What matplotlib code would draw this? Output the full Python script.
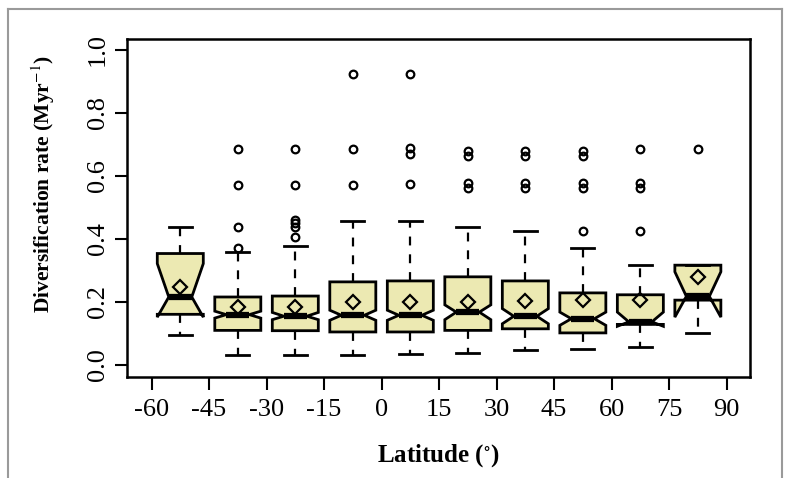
import matplotlib
matplotlib.use("Agg")
import matplotlib.pyplot as plt
from matplotlib.lines import Line2D

plt.rcParams['font.family'] = ['Liberation Serif', 'DejaVu Serif']
plt.rcParams['mathtext.fontset'] = 'stix'

# box centres (latitude band mid-points)
lat = [-52.5, -37.5, -22.5, -7.5, 7.5, 22.5, 37.5, 52.5, 67.5, 82.5]
whislo = [0.095, 0.030, 0.030, 0.030, 0.035, 0.037, 0.048, 0.051, 0.056, 0.100]
q1 = [0.160, 0.109, 0.108, 0.104, 0.104, 0.109, 0.114, 0.101, 0.128, 0.205]
cilo = [0.151, 0.148, 0.143, 0.141, 0.141, 0.143, 0.130, 0.125, 0.122, 0.151]
med = [0.215, 0.159, 0.154, 0.157, 0.157, 0.167, 0.154, 0.146, 0.136, 0.217]
cihi = [0.321, 0.170, 0.166, 0.173, 0.173, 0.190, 0.178, 0.167, 0.167, 0.295]
q3 = [0.353, 0.215, 0.218, 0.263, 0.266, 0.279, 0.266, 0.228, 0.222, 0.316]
whishi = [0.438, 0.358, 0.376, 0.456, 0.456, 0.438, 0.424, 0.372, 0.316, 0.316]
means = [0.247, 0.183, 0.183, 0.199, 0.199, 0.199, 0.201, 0.205, 0.205, 0.279]
fliers = [
    [],
    [0.372, 0.436, 0.570, 0.684],
    [0.404, 0.436, 0.449, 0.459, 0.570, 0.684],
    [0.570, 0.684, 0.924],
    [0.573, 0.669, 0.687, 0.924],
    [0.560, 0.578, 0.663, 0.680],
    [0.560, 0.578, 0.663, 0.680],
    [0.424, 0.560, 0.578, 0.663, 0.680],
    [0.424, 0.560, 0.578, 0.684],
    [0.684],
]
xticks = [-60, -45, -30, -15, 0, 15, 30, 45, 60, 75, 90]
yticks = [0.0, 0.2, 0.4, 0.6, 0.8, 1.0]

stats = []
for i in range(len(lat)):
    stats.append(dict(whislo=whislo[i], q1=q1[i], cilo=cilo[i], med=med[i],
                      cihi=cihi[i], q3=q3[i], whishi=whishi[i],
                      mean=means[i], fliers=fliers[i]))

fig = plt.figure(figsize=(7.87, 4.78), dpi=100)
ax = fig.add_axes([127 / 787, 1 - 377 / 478, 623 / 787, 338 / 478])

ax.bxp(stats, positions=lat, widths=12, capwidths=6, shownotches=True,
       showmeans=True, patch_artist=True,
       boxprops=dict(facecolor='#ece9b2', edgecolor='black', linewidth=2),
       whiskerprops=dict(color='black', linewidth=1.6, linestyle=(0, (4, 4))),
       capprops=dict(color='black', linewidth=2),
       medianprops=dict(color='black', linewidth=4.5, solid_capstyle='butt'),
       meanprops=dict(marker='D', markersize=7.5, markerfacecolor='none',
                      markeredgecolor='black', markeredgewidth=1.6),
       flierprops=dict(marker='o', markersize=5.5, markerfacecolor='none',
                       markeredgecolor='black', markeredgewidth=1.6))

ax.set_xlim(-66.4, 96.1)
ax.set_ylim(-0.039, 1.034)
ax.set_xticks(xticks)
ax.set_xticklabels([str(t) for t in xticks])
ax.set_yticks(yticks)
ax.set_yticklabels(['%.1f' % t for t in yticks], rotation=90, va='center')
ax.tick_params(axis='both', labelsize=19, length=9, width=1.5, direction='out')
ax.tick_params(axis='x', pad=7)
ax.tick_params(axis='y', pad=4)
for sp in ax.spines.values():
    sp.set_linewidth(1.8)

ax.set_xlabel('Latitude ($^{\\circ}$)', fontsize=18, fontweight='bold', labelpad=15)
ax.set_ylabel('Diversification rate (Myr$^{-1}$)', fontsize=15.5,
              fontweight='bold')
ax.yaxis.set_label_coords(-0.112, 0.57)

# grey frame around the figure (no bottom edge)
fx0, fx1, fy1 = 8 / 787, 782 / 787, 1 - 9 / 478
for xs, ys in [([fx0, fx0], [0, fy1]), ([fx0, fx1], [fy1, fy1]), ([fx1, fx1], [fy1, 0])]:
    fig.add_artist(Line2D(xs, ys, transform=fig.transFigure, color='#9a9a9a', linewidth=1.5))

fig.savefig('out.png', dpi=100)
